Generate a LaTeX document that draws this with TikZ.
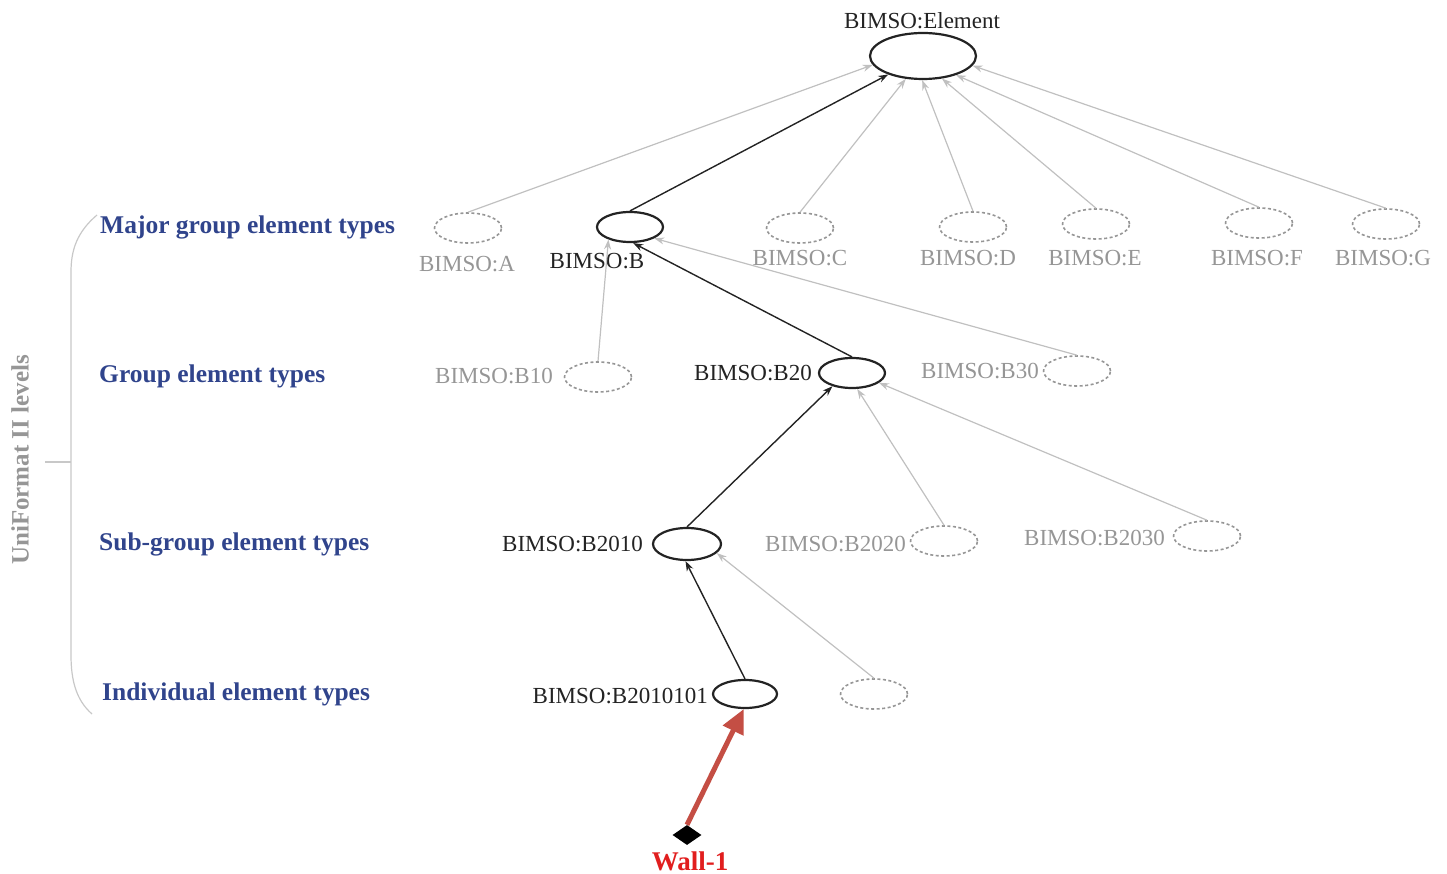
\documentclass[tikz,border=0pt]{standalone}
\usepackage{fontspec}
\setmainfont{Liberation Serif}
\usetikzlibrary{shapes.geometric,arrows.meta}
\definecolor{levelblue}{RGB}{48,68,140}
\definecolor{ghost}{RGB}{150,150,150}
\definecolor{ghostline}{RGB}{192,192,192}
\definecolor{ink}{RGB}{35,35,35}
\definecolor{wallred}{RGB}{196,78,68}
\definecolor{walltext}{RGB}{225,30,30}
\definecolor{bracegray}{RGB}{200,200,200}

\begin{document}
\begin{tikzpicture}[x=1pt,y=-1pt,
  cls/.style={ellipse,draw=ink,line width=2.2pt,minimum width=66pt,minimum height=30pt,inner sep=0pt},
  ghostcls/.style={ellipse,draw=ghost,dash pattern=on 3pt off 2.5pt,line width=1.6pt,minimum width=67pt,minimum height=30pt,inner sep=0pt},
  lbl/.style={font=\fontsize{23}{26}\selectfont,text=ink,inner sep=0pt},
  ghostlbl/.style={lbl,text=ghost},
  level/.style={font=\fontsize{25.5}{28}\selectfont\bfseries,text=levelblue,anchor=west,inner sep=0pt},
  subedge/.style={draw=ink,line width=1.4pt,-{Stealth[length=10pt,width=7pt]}},
  ghostedge/.style={draw=ghostline,line width=1.2pt,-{Stealth[length=10pt,width=7pt]}},
  instedge/.style={draw=wallred,line width=5pt,-{Triangle[length=24pt,width=22pt]}}
]
\useasboundingbox (0,0) rectangle (1447,874);

% root class
\node[cls,minimum width=106pt,minimum height=46pt] (El) at (923,56) {};
\node[lbl] (lEl) at (922,21) {BIMSO:Element};

% major group element types
\node[ghostcls] (A) at (468,228) {};
\node[cls]      (B) at (630,227) {};
\node[ghostcls] (C) at (800,228) {};
\node[ghostcls] (D) at (973,227) {};
\node[ghostcls] (E) at (1096,224) {};
\node[ghostcls] (F) at (1259,223) {};
\node[ghostcls] (G) at (1386,224) {};
\node[ghostlbl] (lA) at (467,264) {BIMSO:A};
\node[lbl]      (lB) at (597,261) {BIMSO:B};
\node[ghostlbl] (lC) at (800,258) {BIMSO:C};
\node[ghostlbl] (lD) at (968,258) {BIMSO:D};
\node[ghostlbl] (lE) at (1095,258) {BIMSO:E};
\node[ghostlbl] (lF) at (1257,258) {BIMSO:F};
\node[ghostlbl] (lG) at (1383,258) {BIMSO:G};

% group element types
\node[ghostcls] (B10) at (598,377) {};
\node[cls]      (B20) at (852,373) {};
\node[ghostcls] (B30) at (1077,371) {};
\node[ghostlbl,anchor=east] (lB10) at (553,376) {BIMSO:B10};
\node[lbl,anchor=east]      (lB20) at (812,373) {BIMSO:B20};
\node[ghostlbl,anchor=east] (lB30) at (1039,371) {BIMSO:B30};

% sub-group element types
\node[cls,minimum width=68pt,minimum height=32pt] (B2010) at (687,544) {};
\node[ghostcls] (B2020) at (944,541) {};
\node[ghostcls] (B2030) at (1207,536) {};
\node[lbl,anchor=east]      (lB2010) at (643,544) {BIMSO:B2010};
\node[ghostlbl,anchor=east] (lB2020) at (906,544) {BIMSO:B2020};
\node[ghostlbl,anchor=east] (lB2030) at (1165,538) {BIMSO:B2030};

% individual element types
\node[cls,minimum width=64pt,minimum height=28pt] (B2010101) at (745,694) {};
\node[ghostcls] (X) at (874,694) {};
\node[lbl,anchor=east] (lB2010101) at (708,696) {BIMSO:B2010101};

% instance
\node[diamond,fill=black,minimum width=29pt,minimum height=20pt,inner sep=0pt] (W) at (687,835) {};
\node[font=\fontsize{27}{30}\selectfont\bfseries,text=walltext,inner sep=0pt] (lW) at (690,861) {Wall-1};

% subclass links
\draw[ghostedge] (A.north) -- (El.190);
\draw[subedge]   (B.north) -- (El.208);
\draw[ghostedge] (C.north) -- (El.233);
\draw[ghostedge] (D.north) -- (El.268);
\draw[ghostedge] (E.north) -- (El.310);
\draw[ghostedge] (F.north) -- (El.330);
\draw[ghostedge] (G.north) -- (El.349);

\draw[ghostedge] (B10.north) -- (B.210);
\draw[subedge]   (B20.north) -- (B.281);
\draw[ghostedge] (B30.north) -- (B.335);

\draw[subedge]   (B2010.north) -- (B20.214);
\draw[ghostedge] (B2020.north) -- (B20.288);
\draw[ghostedge] (B2030.north) -- (B20.340);

\draw[subedge]   (B2010101.north) -- (B2010.265);
\draw[ghostedge] (X.north) -- (B2010.343);

\draw[instedge]  (W.north) -- (B2010101.265);

% level bracket
\draw[bracegray,line width=1.2pt] (97,215) .. controls (77,232) and (71,250) .. (71,272)
  -- (71,655) .. controls (71,680) and (76,700) .. (92,714);
\draw[bracegray,line width=1.2pt] (45,462) -- (71,462);
\node[rotate=90,font=\fontsize{25}{28}\selectfont\bfseries,text=ghost,inner sep=0pt] (uni) at (20,460) {UniFormat II levels};

\node[level] (lv1) at (100,227) {Major group element types};
\node[level] (lv2) at (99,376) {Group element types};
\node[level] (lv3) at (99,544) {Sub-group element types};
\node[level] (lv4) at (102,694) {Individual element types};
\end{tikzpicture}
\end{document}
